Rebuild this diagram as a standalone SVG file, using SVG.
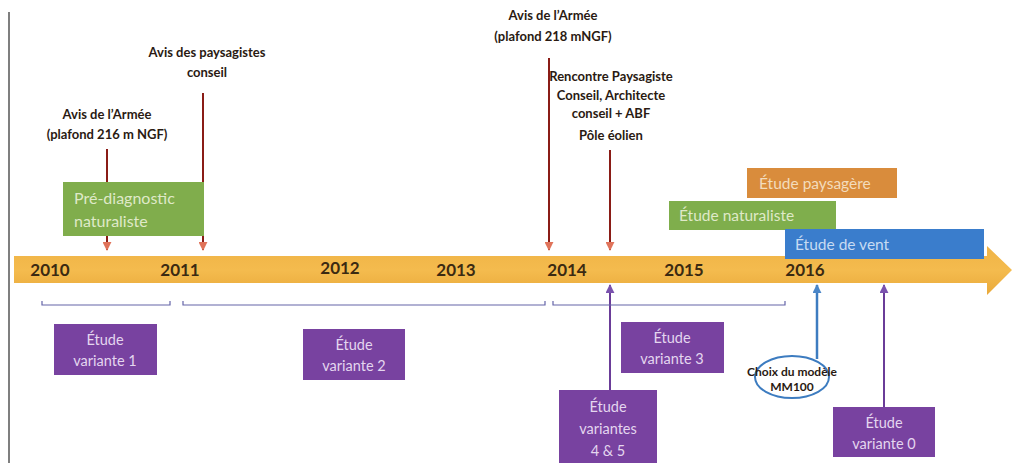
<svg xmlns="http://www.w3.org/2000/svg" width="1022" height="463" viewBox="0 0 1022 463">
<defs>
<linearGradient id="bar" x1="0" y1="0" x2="0" y2="1">
<stop offset="0" stop-color="#f0b446"/><stop offset="0.5" stop-color="#f4bb4e"/><stop offset="1" stop-color="#e9a93a"/>
</linearGradient>
<marker id="ar" viewBox="0 0 10 10" refX="9" refY="5" markerWidth="9" markerHeight="9" orient="auto" markerUnits="userSpaceOnUse">
<path d="M0,0 L10,5 L0,10 z" fill="#e0735a"/>
</marker>
<marker id="ap" viewBox="0 0 10 10" refX="9" refY="5" markerWidth="9" markerHeight="9" orient="auto" markerUnits="userSpaceOnUse">
<path d="M0,0 L10,5 L0,10 z" fill="#7a52ae"/>
</marker>
<marker id="ab" viewBox="0 0 10 10" refX="9" refY="5" markerWidth="9" markerHeight="9" orient="auto" markerUnits="userSpaceOnUse">
<path d="M0,0 L10,5 L0,10 z" fill="#4a86c8"/>
</marker>
</defs>
<style>
.lbl{font-family:Lato,"Open Sans","Liberation Sans",sans-serif;font-weight:bold;font-size:13px;fill:#2a1a12;text-anchor:middle}
.yr{font-family:Lato,"Liberation Sans",sans-serif;font-weight:bold;font-size:17px;fill:#3b2a12;text-anchor:middle}
.bx{font-family:Lato,"Open Sans","Liberation Sans",sans-serif;font-size:14.5px;fill:#e4d6ef;text-anchor:middle}
.bt{font-family:Lato,"Open Sans","Liberation Sans",sans-serif;font-size:15.5px;fill:#dfe9c8}
.purple{fill:#7842a0}
.red{stroke:#8a1c16;stroke-width:2;fill:none;marker-end:url(#ar)}
.pur{stroke:#6a3c98;stroke-width:2;fill:none;marker-end:url(#ap)}
.brk{stroke:#6464a8;stroke-width:1.2;fill:none}
</style>
<rect width="1022" height="463" fill="#ffffff"/>
<line x1="9" y1="12" x2="9" y2="463" stroke="#555" stroke-width="1.5"/>

<g id="timeline">
<path d="M14,256 H987 V246 L1012,270 L987,295 V283 H14 Z" fill="url(#bar)"/>
<text class="yr" x="50" y="276">2010</text>
<text class="yr" x="180" y="276">2011</text>
<text class="yr" x="340" y="274">2012</text>
<text class="yr" x="456" y="276">2013</text>
<text class="yr" x="567" y="276">2014</text>
<text class="yr" x="684" y="276">2015</text>
<text class="yr" x="805" y="276">2016</text>
</g>

<g id="connectors">
<line class="red" x1="107" y1="149" x2="107" y2="250"/>
<line class="red" x1="203" y1="93" x2="203" y2="250"/>
<line class="red" x1="549" y1="58" x2="549" y2="250"/>
<line class="red" x1="610" y1="150" x2="610" y2="250"/>
<line class="pur" x1="610" y1="390" x2="610" y2="285"/>
<line x1="817" y1="359" x2="817" y2="285" stroke="#3d7cc0" stroke-width="2.5" marker-end="url(#ab)"/>
<line class="pur" x1="884" y1="407" x2="884" y2="285"/>
<path class="brk" d="M42,301 V305 H170 V301"/>
<path class="brk" d="M183,301 V305 H545 V301"/>
<path class="brk" d="M553,301 V305 H785 V301"/>
</g>

<g id="pre-diagnostic">
<rect x="63" y="182" width="141" height="54" fill="#80ad4c"/>
<text class="bt" x="74" y="204" style="font-size:16px">Pré-diagnostic</text>
<text class="bt" x="74" y="227" style="font-size:16px">naturaliste</text>
</g>
<g id="etude-paysagere">
<rect x="747" y="168" width="150" height="30" fill="#d98c3c"/>
<text class="bt" x="759" y="189" style="fill:#f3dcbc">Étude paysagère</text>
</g>
<g id="etude-naturaliste">
<rect x="669" y="201" width="167" height="29" fill="#7fae4c"/>
<text class="bt" x="679" y="221">Étude naturaliste</text>
</g>
<g id="etude-vent">
<rect x="785" y="229" width="199" height="30" fill="#3a7dcc"/>
<text class="bt" x="795" y="250" style="fill:#c7dbf2">Étude de vent</text>
</g>

<g id="avis-armee-2010">
<text class="lbl" x="107" y="119">Avis de l’Armée</text>
<text class="lbl" x="107" y="139">(plafond 216 m NGF)</text>
</g>
<g id="avis-paysagistes">
<text class="lbl" x="207" y="57">Avis des paysagistes</text>
<text class="lbl" x="207" y="77">conseil</text>
</g>
<g id="avis-armee-2014">
<text class="lbl" x="553" y="20">Avis de l’Armée</text>
<text class="lbl" x="553" y="41">(plafond 218 mNGF)</text>
</g>
<g id="rencontre">
<text class="lbl" x="611" y="81">Rencontre Paysagiste</text>
<text class="lbl" x="611" y="100">Conseil,  Architecte</text>
<text class="lbl" x="611" y="118">conseil + ABF</text>
<text class="lbl" x="611" y="140">Pôle éolien</text>
</g>

<g id="variante-1">
<rect class="purple" x="54" y="324" width="103" height="51"/>
<text class="bx" x="105" y="345">Étude</text>
<text class="bx" x="105" y="366">variante 1</text>
</g>
<g id="variante-2">
<rect class="purple" x="303" y="329" width="102" height="51"/>
<text class="bx" x="354" y="350">Étude</text>
<text class="bx" x="354" y="371">variante 2</text>
</g>
<g id="variante-3">
<rect class="purple" x="621" y="322" width="103" height="51"/>
<text class="bx" x="672" y="343">Étude</text>
<text class="bx" x="672" y="364">variante 3</text>
</g>
<g id="variantes-4-5">
<rect class="purple" x="559" y="390" width="98" height="73"/>
<text class="bx" x="608" y="412">Étude</text>
<text class="bx" x="608" y="434">variantes</text>
<text class="bx" x="608" y="456">4 &amp; 5</text>
</g>
<g id="variante-0">
<rect class="purple" x="833" y="407" width="102" height="50"/>
<text class="bx" x="884" y="428">Étude</text>
<text class="bx" x="884" y="449">variante 0</text>
</g>
<g id="choix-modele">
<ellipse cx="792" cy="377" rx="37" ry="21" fill="#ffffff" stroke="#3d7cc0" stroke-width="2"/>
<text class="lbl" x="792" y="376" style="font-size:12px">Choix du modèle</text>
<text class="lbl" x="792" y="391" style="font-size:12px">MM100</text>
</g>
</svg>
